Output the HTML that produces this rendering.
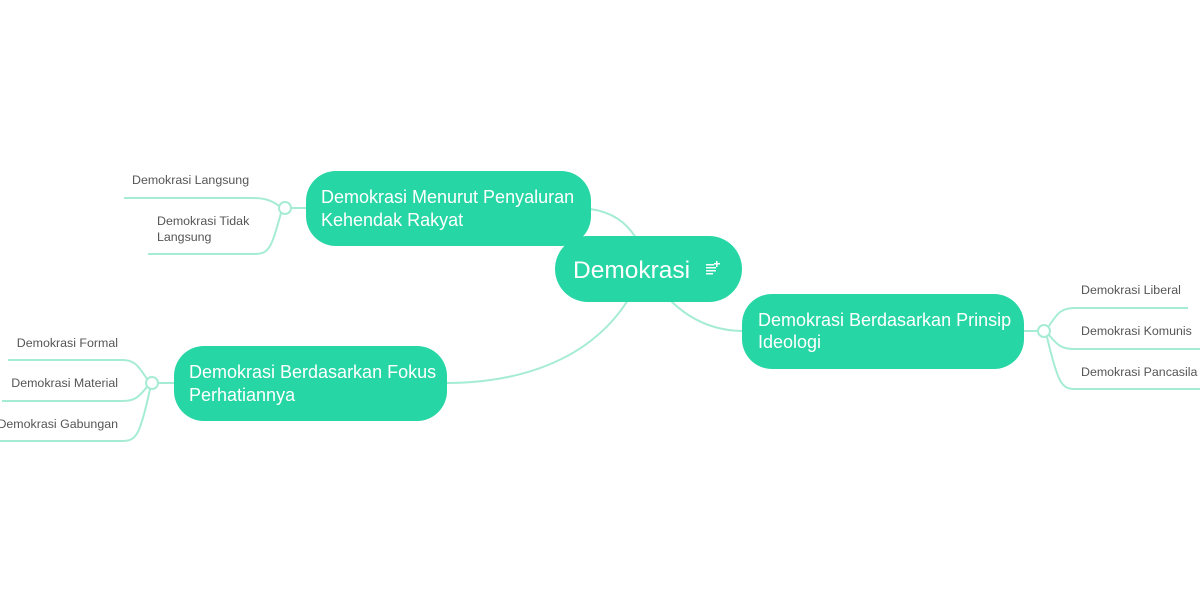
<!DOCTYPE html>
<html><head><meta charset="utf-8"><style>
html,body{margin:0;padding:0;background:#fff;}
svg{display:block;}
text{font-family:"Liberation Sans",sans-serif;}
</style></head><body>
<svg width="1200" height="600" viewBox="0 0 1200 600" xmlns="http://www.w3.org/2000/svg">
<g fill="none" stroke="#a6ecd5" stroke-width="2">
<path d="M590 209 C612 212 626 222 636 238"/>
<path d="M670 300 C690 320 715 331 744 331"/>
<path d="M628 300 C590 360 520 383 446 383"/>
<path d="M306 208 L291 208"/>
<path d="M279 206 C270 199 262 198 250 198 L124 198"/>
<path d="M281 213 C272 245 270 254 255 254 L148 254"/>
<path d="M174 383 L158 383"/>
<path d="M147 379 C138 365 134 360 122 360 L8 360"/>
<path d="M147 387 C138 398 134 401 122 401 L2 401"/>
<path d="M150 389 C140 436 136 441 122 441 L0 441"/>
<path d="M1024 331 L1039 331"/>
<path d="M1049 326 C1058 312 1062 308 1075 308 L1188 308"/>
<path d="M1049 335 C1058 346 1062 349 1075 349 L1200 349"/>
<path d="M1047 337 C1058 384 1062 389 1075 389 L1200 389"/>
</g>
<g fill="#fff" stroke="#a6ecd5" stroke-width="2">
<circle cx="285" cy="208" r="6"/>
<circle cx="152" cy="383" r="6"/>
<circle cx="1044" cy="331" r="6"/>
</g>
<g fill="#26d6a4">
<rect x="555" y="236" width="187" height="66" rx="33"/>
<rect x="306" y="171" width="285" height="75" rx="30"/>
<rect x="174" y="346" width="273" height="75" rx="30"/>
<rect x="742" y="294" width="282" height="75" rx="30"/>
</g>
<g fill="#fff">
<text x="573" y="278" font-size="24.5">Demokrasi</text>
<text x="321" y="203" font-size="18">Demokrasi Menurut Penyaluran</text>
<text x="321" y="226" font-size="18">Kehendak Rakyat</text>
<text x="189" y="378" font-size="18">Demokrasi Berdasarkan Fokus</text>
<text x="189" y="401" font-size="18">Perhatiannya</text>
<text x="758" y="326" font-size="18">Demokrasi Berdasarkan Prinsip</text>
<text x="758" y="348" font-size="18">Ideologi</text>
<rect x="706" y="264" width="8" height="1.5"/>
<rect x="706" y="267" width="10" height="1.5"/>
<rect x="706" y="270" width="10" height="1.5"/>
<rect x="706" y="273" width="7" height="1.5"/>
<rect x="716" y="261" width="1.5" height="6"/>
<rect x="714" y="263" width="6" height="1.5"/>
</g>
<g fill="#555" font-size="12.4">
<text x="132" y="184">Demokrasi Langsung</text>
<text x="157" y="225">Demokrasi Tidak</text>
<text x="157" y="241">Langsung</text>
<text x="118" y="347" text-anchor="end">Demokrasi Formal</text>
<text x="118" y="387" text-anchor="end">Demokrasi Material</text>
<text x="118" y="428" text-anchor="end">Demokrasi Gabungan</text>
<text x="1081" y="294">Demokrasi Liberal</text>
<text x="1081" y="335">Demokrasi Komunis</text>
<text x="1081" y="376">Demokrasi Pancasila</text>
</g>
</svg>
</body></html>
